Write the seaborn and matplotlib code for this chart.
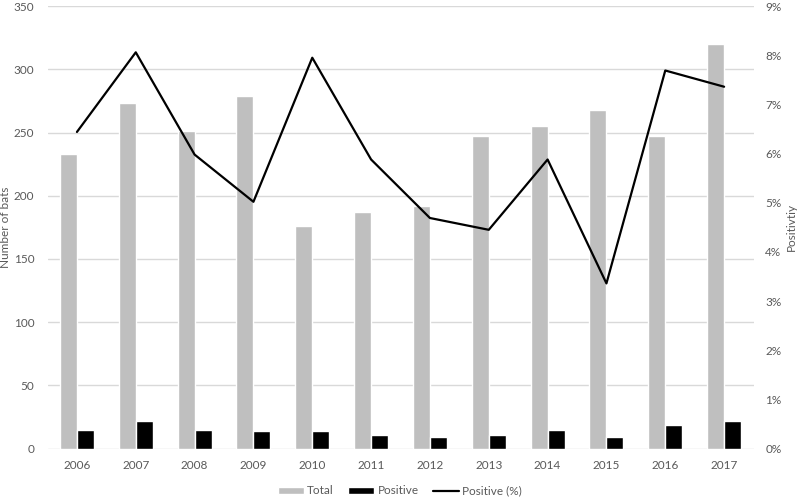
import numpy as np
import pandas as pd
import matplotlib
matplotlib.use("Agg")
import matplotlib.pyplot as plt
from matplotlib.patches import Patch
from matplotlib.lines import Line2D
from matplotlib.ticker import FuncFormatter, MultipleLocator
import seaborn as sns

years = ["2006", "2007", "2008", "2009", "2010", "2011",
         "2012", "2013", "2014", "2015", "2016", "2017"]
total = [233, 273, 251, 279, 176, 187, 192, 247, 255, 268, 247, 320]
positive = [15, 22, 15, 14, 14, 11, 9, 11, 15, 9, 19, 22]
positivity_pct = [6.44, 8.06, 5.98, 5.02, 7.95, 5.88, 4.69, 4.45, 5.88, 3.36, 7.69, 7.36]

sns.set_theme(style="white")
plt.rcParams["font.family"] = ["Lato", "DejaVu Sans"]
TXT = "#595959"
GRID = "#d9d9d9"
FS = 8.5

df = pd.DataFrame({
    "Year": years * 2,
    "Count": total + positive,
    "Series": ["Total"] * len(years) + ["Positive"] * len(years),
})

fig = plt.figure(figsize=(8, 5), dpi=100)
ax = fig.add_axes([0.0594, 0.1028, 0.8825, 0.885])

sns.barplot(data=df, x="Year", y="Count", hue="Series", order=years,
            hue_order=["Total", "Positive"],
            palette={"Total": "#bfbfbf", "Positive": "#000000"},
            width=0.58, gap=0, saturation=1, dodge=True, ax=ax, legend=False,
            errorbar=None)

ax.set_ylim(0, 350)
ax.yaxis.set_major_locator(MultipleLocator(50))
ax.grid(axis="y", color=GRID, linewidth=1)
ax.set_axisbelow(True)
for s in ax.spines.values():
    s.set_visible(False)
ax.tick_params(axis="both", length=0, colors=TXT, labelsize=FS)
ax.tick_params(axis="y", pad=9.5)
ax.tick_params(axis="x", pad=8)
ax.set_xlabel("")
ax.set_ylabel("Number of bats", color=TXT, fontsize=FS)
ax.yaxis.set_label_coords(-0.052, 0.5)
ax.set_xlim(-0.5, len(years) - 0.5)

ax2 = ax.twinx()
pct_df = pd.DataFrame({"Year": years, "Pct": [p / 100 for p in positivity_pct]})
sns.pointplot(data=pct_df, x="Year", y="Pct", order=years, color="black",
              markers="", linewidth=1.6, ax=ax2, errorbar=None)
ax2.set_ylim(0, 0.09)
ax2.yaxis.set_major_locator(MultipleLocator(0.01))
ax2.yaxis.set_major_formatter(FuncFormatter(lambda v, p: f"{v*100:.0f}%"))
for s in ax2.spines.values():
    s.set_visible(False)
ax2.tick_params(axis="y", length=0, colors=TXT, labelsize=FS, pad=8.5)
ax2.set_ylabel("Positivtiy", color=TXT, fontsize=FS, rotation=90)
ax2.yaxis.set_label_coords(1.046, 0.5)
ax2.grid(False)
ax2.set_xlim(-0.5, len(years) - 0.5)

handles = [Patch(facecolor="#bfbfbf", label="Total"),
           Patch(facecolor="#000000", label="Positive"),
           Line2D([0], [0], color="black", linewidth=1.6, label="Positive (%)")]
leg = fig.legend(handles=handles, loc="center", bbox_to_anchor=(0.5, 0.018),
                 ncol=3, frameon=False, fontsize=FS, handlelength=2.2,
                 handleheight=0.6, columnspacing=1.2, handletextpad=0.3)
for t in leg.get_texts():
    t.set_color(TXT)

fig.savefig("out.png", dpi=100)
